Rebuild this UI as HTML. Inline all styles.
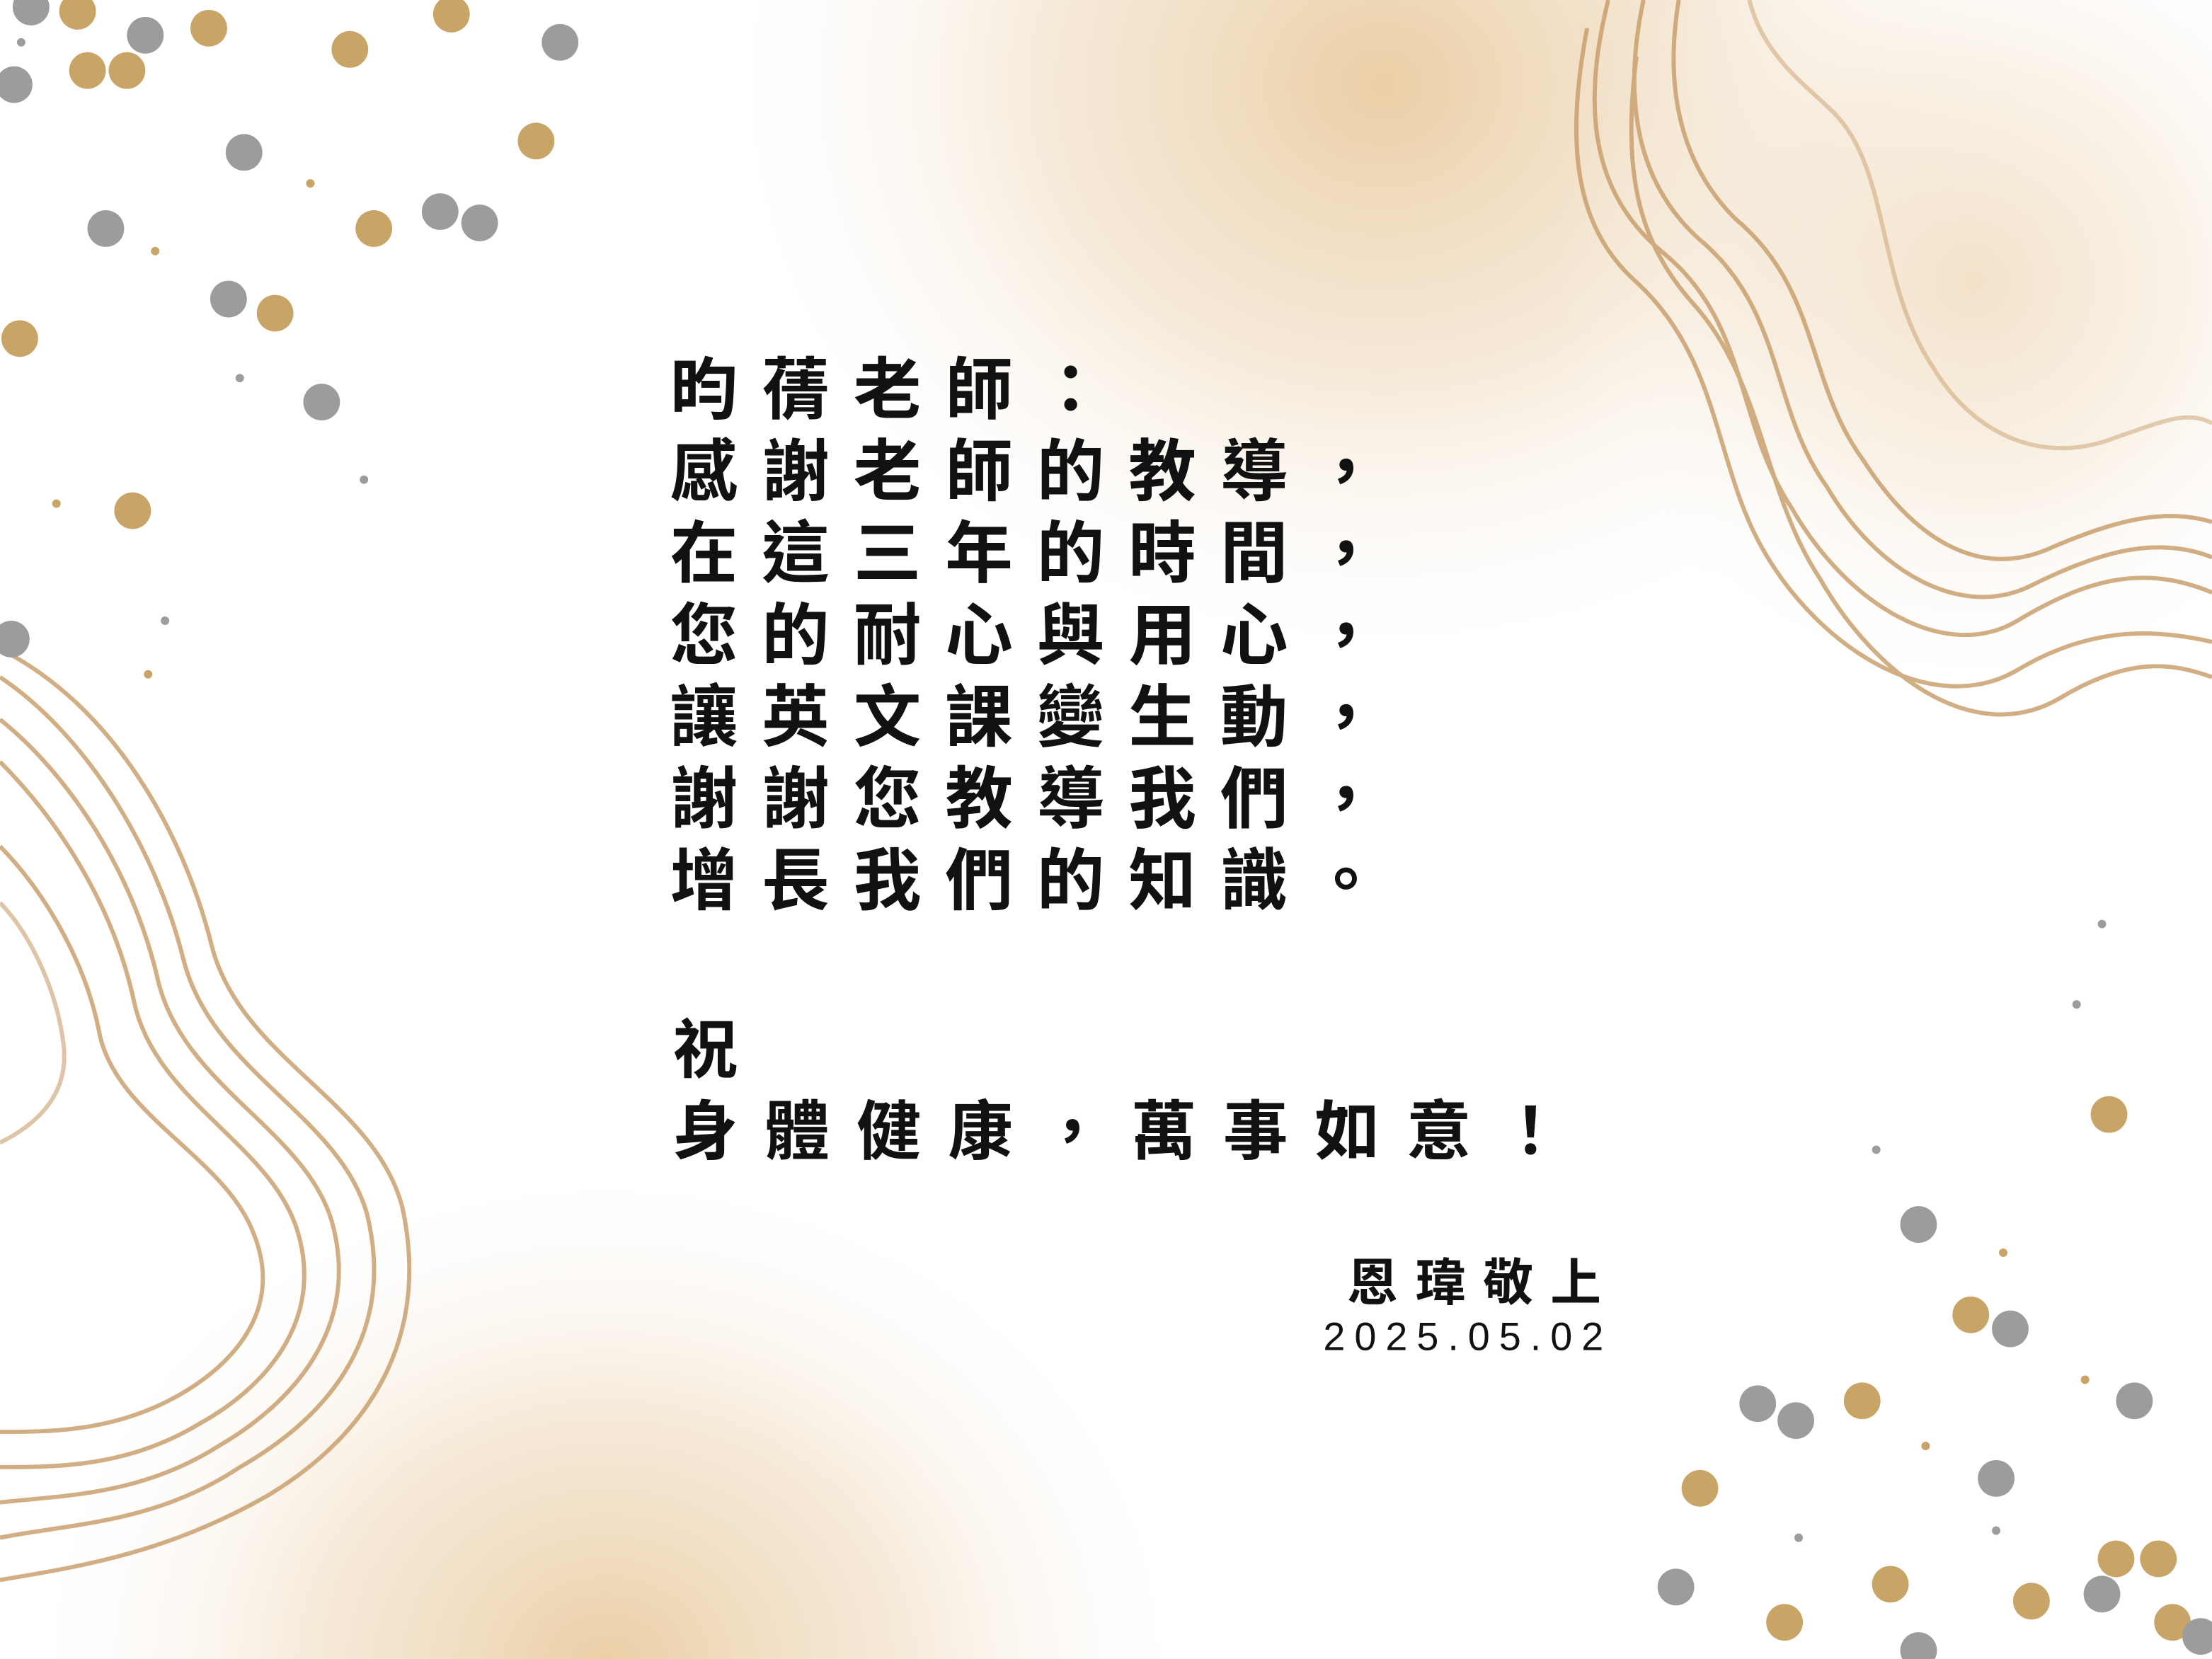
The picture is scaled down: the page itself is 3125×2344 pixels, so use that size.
<!DOCTYPE html>
<html><head><meta charset="utf-8">
<style>
html,body{margin:0;padding:0;width:3125px;height:2344px;overflow:hidden;background:#fff;}
svg{display:block;}
.t{font-family:"Liberation Sans","Noto Sans CJK TC",sans-serif;font-weight:700;fill:#111;}
</style></head>
<body>
<svg width="3125" height="2344" viewBox="0 0 1568 1176" preserveAspectRatio="none" xmlns="http://www.w3.org/2000/svg">
<defs>
<radialGradient id="g1" cx="0.5" cy="0.5" r="0.5">
<stop offset="0" stop-color="#e9c99c" stop-opacity="0.9"/>
<stop offset="0.5" stop-color="#f0dcc0" stop-opacity="0.6"/>
<stop offset="1" stop-color="#fff" stop-opacity="0"/>
</radialGradient>
</defs>
<rect width="1568" height="1176" fill="#fff"/>
<ellipse cx="980" cy="60" rx="480" ry="420" fill="url(#g1)"/>
<ellipse cx="1400" cy="200" rx="300" ry="300" fill="url(#g1)" opacity="0.6"/>
<ellipse cx="430" cy="1180" rx="420" ry="360" fill="url(#g1)"/>
<g fill="none" stroke="#c9a06e" stroke-width="3" opacity="0.85">
<path d="M1140,0 C1120,80 1130,140 1180,180 C1240,230 1230,300 1270,360 C1310,430 1380,470 1430,440 C1480,410 1520,400 1568,420"/>
<path d="M1165,0 C1150,70 1160,130 1205,170 C1265,220 1255,290 1295,345 C1330,405 1390,440 1440,415 C1490,390 1530,380 1568,395"/>
<path d="M1190,0 C1180,60 1190,115 1230,155 C1290,205 1280,270 1320,325 C1355,380 1400,410 1450,390 C1500,368 1535,360 1568,370"/>
<path d="M1125,20 C1110,100 1115,160 1160,200 C1220,255 1215,330 1250,390 C1290,460 1370,510 1430,475 C1480,445 1525,445 1568,455"/>
<path d="M1160,40 C1150,120 1160,170 1200,215 C1250,270 1250,350 1290,410 C1330,480 1400,530 1460,495 C1510,465 1540,470 1568,480"/>
<path d="M1240,0 C1250,40 1280,60 1300,80 C1340,120 1330,200 1370,260 C1400,310 1450,330 1500,310 C1530,300 1550,290 1568,300" opacity="0.6"/>
</g>
<g fill="none" stroke="#c9a06e" stroke-width="3" opacity="0.85">
<path d="M0,480 C60,520 110,600 130,680 C150,760 240,790 260,860 C280,940 240,1000 170,1040 C110,1080 50,1080 0,1090"/>
<path d="M0,510 C50,550 95,620 112,695 C130,770 215,800 235,865 C255,935 215,990 155,1025 C100,1060 45,1060 0,1065"/>
<path d="M0,540 C40,580 80,640 95,710 C110,780 190,810 210,870 C230,930 195,980 140,1010 C90,1040 40,1040 0,1040"/>
<path d="M0,600 C30,630 60,680 70,730 C80,790 160,820 180,875 C200,925 170,965 125,990 C80,1015 35,1015 0,1015"/>
<path d="M0,460 C80,500 130,590 150,670 C170,750 265,780 285,855 C305,945 265,1015 190,1060 C120,1100 60,1110 0,1120"/>
<path d="M0,640 C20,660 40,700 45,740 C50,780 20,800 0,810" opacity="0.7"/>
</g>
<g>
<g fill="#c9a467">
<circle cx="55" cy="8" r="13"/><circle cx="148" cy="20" r="13"/><circle cx="248" cy="35" r="13"/><circle cx="320" cy="10" r="13"/><circle cx="62" cy="50" r="13"/><circle cx="90" cy="50" r="13"/><circle cx="380" cy="100" r="13"/><circle cx="265" cy="162" r="13"/><circle cx="195" cy="222" r="13"/><circle cx="14" cy="240" r="13"/><circle cx="94" cy="362" r="13"/>
<circle cx="1495" cy="790" r="13"/><circle cx="1397" cy="932" r="13"/><circle cx="1320" cy="993" r="13"/><circle cx="1205" cy="1055" r="13"/><circle cx="1340" cy="1123" r="13"/><circle cx="1500" cy="1105" r="13"/><circle cx="1530" cy="1105" r="13"/><circle cx="1440" cy="1135" r="13"/><circle cx="1265" cy="1150" r="13"/><circle cx="1540" cy="1150" r="13"/>
<circle cx="110" cy="178" r="3"/><circle cx="220" cy="130" r="3"/><circle cx="40" cy="357" r="3"/><circle cx="105" cy="478" r="3"/><circle cx="1365" cy="1025" r="3"/><circle cx="1478" cy="978" r="3"/><circle cx="1420" cy="888" r="3"/>
</g>
<g fill="#9c9c9c">
<circle cx="22" cy="5" r="13"/><circle cx="103" cy="25" r="13"/><circle cx="397" cy="30" r="13"/><circle cx="10" cy="60" r="13"/><circle cx="173" cy="108" r="13"/><circle cx="75" cy="162" r="13"/><circle cx="312" cy="150" r="13"/><circle cx="340" cy="158" r="13"/><circle cx="162" cy="212" r="13"/><circle cx="228" cy="285" r="13"/><circle cx="8" cy="453" r="13"/>
<circle cx="1360" cy="868" r="13"/><circle cx="1425" cy="942" r="13"/><circle cx="1246" cy="995" r="13"/><circle cx="1273" cy="1007" r="13"/><circle cx="1513" cy="993" r="13"/><circle cx="1415" cy="1048" r="13"/><circle cx="1188" cy="1125" r="13"/><circle cx="1490" cy="1130" r="13"/><circle cx="1560" cy="1160" r="13"/><circle cx="1360" cy="1170" r="13"/>
<circle cx="15" cy="30" r="3"/><circle cx="170" cy="268" r="3"/><circle cx="258" cy="340" r="3"/><circle cx="117" cy="440" r="3"/><circle cx="1490" cy="655" r="3"/><circle cx="1472" cy="712" r="3"/><circle cx="1330" cy="815" r="3"/><circle cx="1415" cy="1085" r="3"/><circle cx="1275" cy="1090" r="3"/>
</g>
</g>
<g>
<text class="t" x="475" y="293" font-size="48" letter-spacing="17">昀蒨老師：</text>
<text class="t" x="475" y="351" font-size="48" letter-spacing="17">感謝老師的教導，</text>
<text class="t" x="475" y="409" font-size="48" letter-spacing="17">在這三年的時間，</text>
<text class="t" x="475" y="467" font-size="48" letter-spacing="17">您的耐心與用心，</text>
<text class="t" x="475" y="525" font-size="48" letter-spacing="17">讓英文課變生動，</text>
<text class="t" x="475" y="583" font-size="48" letter-spacing="17">謝謝您教導我們，</text>
<text class="t" x="475" y="641" font-size="48" letter-spacing="17">增長我們的知識。</text>
<text class="t" x="477" y="760" font-size="46">祝</text>
<text class="t" x="477" y="818" font-size="46" letter-spacing="19">身體健康，萬事如意！</text>
<text class="t" x="955" y="922" font-size="36" letter-spacing="12">恩瑋敬上</text>
<text class="t" x="938" y="957" font-size="28" letter-spacing="6.5" style="font-weight:400">2025.05.02</text>
</g>
</svg>
</body></html>
